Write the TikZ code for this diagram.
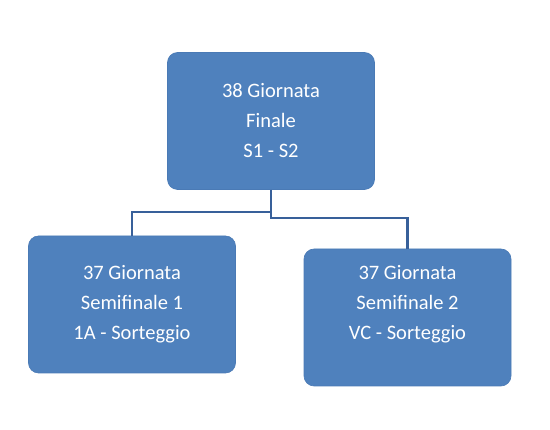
\documentclass[tikz,border=0pt]{standalone}
\usepackage{fontspec}
\setmainfont{Carlito}
\definecolor{boxblue}{HTML}{4F81BD}
\definecolor{boxedge}{HTML}{4A7AB5}
\definecolor{linkblue}{HTML}{38609A}
\begin{document}
\begin{tikzpicture}[x=1pt,y=-1pt,
  box/.style={draw=boxedge,fill=boxblue,rounded corners=10pt,line width=0.6pt,
    text=white,font=\fontsize{20.5}{30}\selectfont,align=center,
    minimum width=207pt,minimum height=137pt,inner sep=0pt},
  link/.style={draw=linkblue,line width=2.4pt}]
\useasboundingbox (0,0) rectangle (550,430);
\node[box] (top) at (271,121) {38 Giornata\\Finale\\S1 - S2};
\node[box] (left) at (132,304.5) {37 Giornata\\Semifinale 1\\1A - Sorteggio};
\node[box] (right) at (407.5,317.5) {37 Giornata\\Semifinale 2\\VC - Sorteggio\\[0pt]};
\coordinate (lj) at (271,212);
\coordinate (rj) at (271,218);
\draw[link] (top.south) -- (lj) -| (left.north);
\draw[link] (top.south) -- (rj) -| (right.north);
\end{tikzpicture}
\end{document}
